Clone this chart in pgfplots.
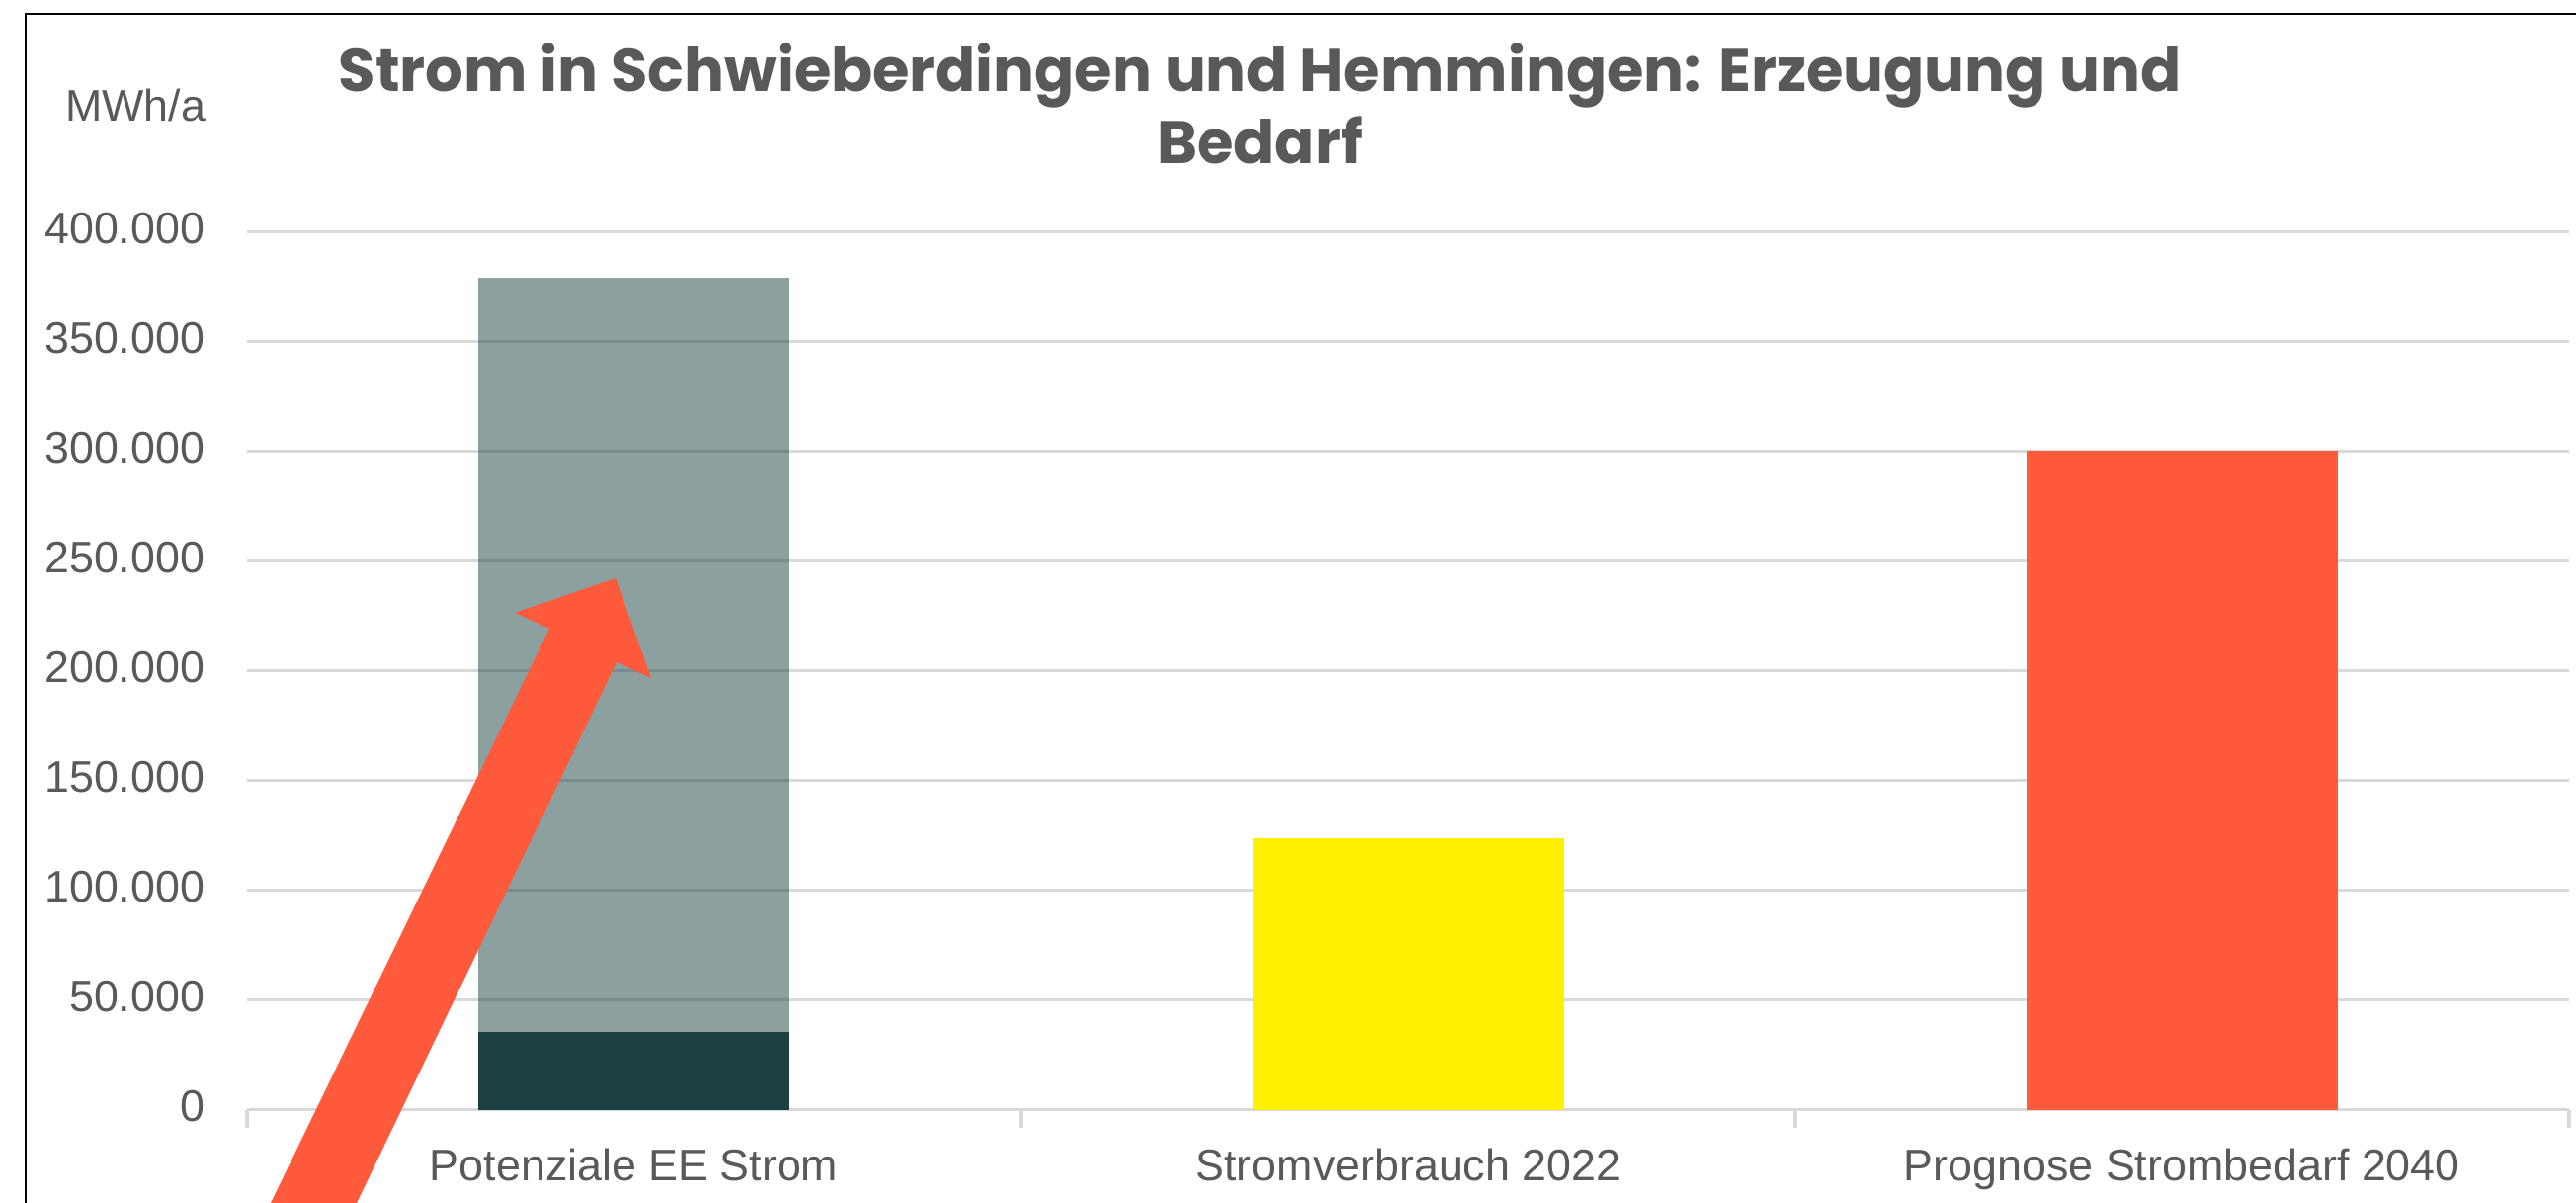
\documentclass[border=0pt]{standalone}
\usepackage{pgfplots}
\pgfplotsset{compat=1.18}
\usepackage{fontspec}
\setmainfont{Liberation Sans}
\newfontfamily\titlefont{Poppins}
\definecolor{dteal}{HTML}{1B4142}
\definecolor{eeyellow}{HTML}{FFF000}
\definecolor{eered}{HTML}{FF5A3C}
\definecolor{gridgrey}{HTML}{D9D9D9}
\definecolor{txtgrey}{HTML}{595959}
\begin{document}
\begin{tikzpicture}
\path[use as bounding box] (0,0) rectangle (651.75pt,304.25pt);
\begin{axis}[
  at={(62.5pt,23.575pt)}, anchor=south west,
  scale only axis, width=587.5pt, height=222pt,
  xmin=-0.5, xmax=2.5, ymin=0, ymax=400000,
  ybar stacked, bar width=78.75pt,
  axis x line*=bottom, axis y line*=left,
  x axis line style={draw=gridgrey, line width=0.9pt, -},
  y axis line style={draw=none},
  ytick={0,50000,...,400000},
  ymajorgrids, grid style={draw=gridgrey, line width=0.85pt},
  xtick={0,1,2},
  xticklabels={Potenziale EE Strom, Stromverbrauch 2022, Prognose Strombedarf 2040},
  minor xtick={-0.5,0.5,1.5,2.5},
  major tick length=0pt, minor tick length=4.5pt, tick align=outside,
  minor x tick style={draw=gridgrey, line width=1pt},
  xtick style={draw=none}, ytick style={draw=none},
  scaled y ticks=false,
  /pgf/number format/.cd, fixed, 1000 sep={.}, assume math mode=true,
  /pgfplots/.cd,
  ticklabel style={font=\fontsize{11.2}{13}\selectfont, text=txtgrey, inner sep=0pt},
  yticklabel style={anchor=east, xshift=-10.5pt, yshift=1pt},
  xticklabel style={anchor=base, yshift=-18pt},
  clip=false,
]
\addplot[fill=dteal, draw=none] coordinates {(0,35500) (1,0) (2,0)};
\addplot[fill=dteal, fill opacity=0.5, draw=none] coordinates {(0,343500) (1,0) (2,0)};
\addplot[fill=eeyellow, draw=none] coordinates {(0,0) (1,123700) (2,0)};
\addplot[fill=eered, draw=none] coordinates {(0,0) (1,0) (2,300400)};
\end{axis}
\begin{scope}[yshift=304.25pt, x=0.25pt, y=-0.25pt]
\fill[eered] (274,1217) -- (556,636) -- (521,620) -- (623,585) -- (659,686) -- (624,670) -- (361,1217) -- cycle;
\draw[black, line width=0.6pt] (26,1217) -- (26,14) -- (2607,14);
\node[anchor=base, inner sep=0pt, text=txtgrey, font=\fontsize{11.2}{13}\selectfont] at (137,123) {MWh/a};
\node[anchor=base, inner sep=0pt, text=txtgrey, font=\titlefont\bfseries\fontsize{15.2}{18}\selectfont] at (1275,93) {Strom in Schwieberdingen und Hemmingen: Erzeugung und};
\node[anchor=base, inner sep=0pt, text=txtgrey, font=\titlefont\bfseries\fontsize{15.2}{18}\selectfont] at (1275,166) {Bedarf};
\end{scope}
\end{tikzpicture}
\end{document}
